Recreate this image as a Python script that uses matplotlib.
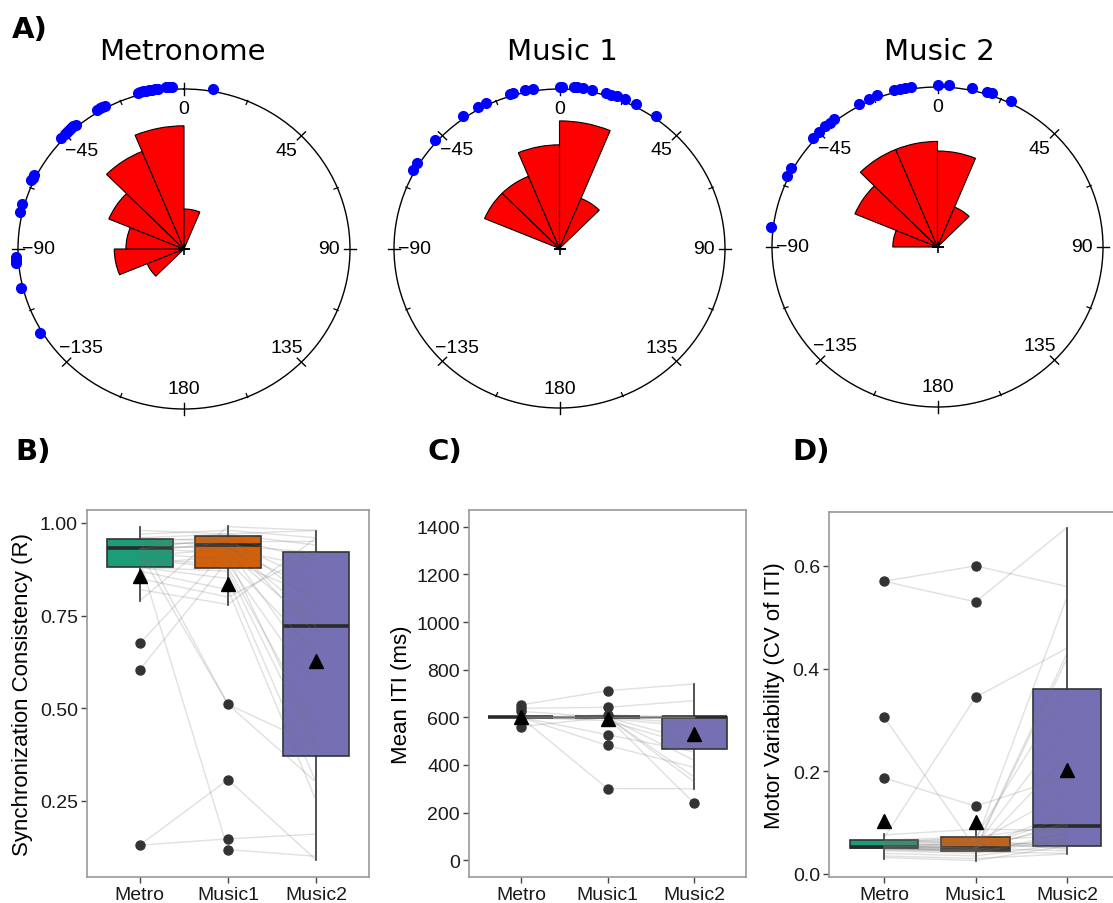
import numpy as np
import matplotlib
matplotlib.use('Agg')
import matplotlib.pyplot as plt

plt.rcParams['font.family'] = ['Liberation Sans', 'DejaVu Sans']

# ---------------- panel A: phase angles (deg) per participant + rose bar radii
titles = ['Metronome', 'Music 1', 'Music 2']
phase_metro = [10, -4, -5, -6, -9, -10, -11, -12, -13, -14, -15, -16, -28, -29, -30, -31,
               -40, -41, -42, -43, -44, -45, -47, -63, -64, -65, -74, -77, -93, -94, -95,
               -104, -121]
phase_music1 = [0, 1, 5, 6, 8, 11, 16, 18, 20, 23, 27, 35, -9, -12, -16, -17, -26, -29,
                -35, -48, -58, -61]
phase_music2 = [0, 4, 12, 17, 19, 26, -9, -11, -13, -15, -21, -24, -28, -38, -40, -42,
                -45, -48, -61, -64, -83]
rose_start_metro = [-135, -112.5, -90, -67.5, -45, -22.5, 0]
rose_height_metro = [0.24, 0.42, 0.35, 0.49, 0.66, 0.77, 0.25]
rose_start_music1 = [-67.5, -45, -22.5, 0, 22.5]
rose_height_music1 = [0.49, 0.49, 0.65, 0.80, 0.34]
rose_start_music2 = [-90, -67.5, -45, -22.5, 0, 22.5]
rose_height_music2 = [0.27, 0.54, 0.66, 0.66, 0.60, 0.27]
circle_ticks = [0, 45, 90, 135, 180, -135, -90, -45]
circle_labels = ['0', '45', '90', '135', '180', '\u2212135', '\u221290', '\u221245']

# ---------------- panels B-D
groups = ['Metro', 'Music1', 'Music2']
box_colors = ['#1B9E77', '#D95F02', '#7570B3']

# B: synchronization consistency (R), one value per participant
sync_metro = [0.98, 0.97, 0.96, 0.96, 0.95, 0.95, 0.94, 0.94, 0.93, 0.93, 0.93, 0.92, 0.92,
              0.91, 0.90, 0.90, 0.89, 0.88, 0.88, 0.87, 0.85, 0.82, 0.79, 0.675, 0.604,
              0.13, 0.13, 0.90, 0.95, 0.92]
sync_music1 = [0.97, 0.98, 0.95, 0.97, 0.96, 0.94, 0.95, 0.93, 0.96, 0.94, 0.92, 0.95, 0.90,
               0.93, 0.89, 0.88, 0.91, 0.87, 0.85, 0.82, 0.80, 0.78, 0.99, 0.93, 0.90,
               0.307, 0.147, 0.118, 0.51, 0.51]
sync_music2 = [0.98, 0.96, 0.95, 0.94, 0.90, 0.92, 0.84, 0.82, 0.78, 0.74, 0.72, 0.70, 0.65,
               0.60, 0.55, 0.45, 0.41, 0.39, 0.30, 0.25, 0.92, 0.96, 0.98, 0.88, 0.80,
               0.09, 0.16, 0.10, 0.40, 0.30]
sync_q1 = [0.880, 0.878, 0.372]
sync_med = [0.932, 0.941, 0.723]
sync_q3 = [0.957, 0.966, 0.921]
sync_lo = [0.790, 0.779, 0.089]
sync_hi = [0.988, 0.991, 0.979]
sync_mean = [0.856, 0.835, 0.626]
sync_fliers = [[0.675, 0.604, 0.130], [0.510, 0.307, 0.147, 0.118], []]

# C: mean inter-tap interval (ms)
iti_metro = [652, 638, 625, 561] + [600] * 26
iti_music1 = [712, 642, 600, 600, 610, 596, 586, 527, 482, 301, 600, 600, 600, 600, 600,
              600, 600, 600, 600, 600, 600, 600, 600, 600, 600, 600, 600, 600, 600, 600]
iti_music2 = [740, 670, 600, 575, 600, 560, 480, 455, 390, 300, 240, 330, 350, 420, 500,
              600, 600, 600, 600, 600, 600, 600, 600, 600, 600, 600, 600, 600, 600, 600]
iti_q1 = [600, 600, 468]
iti_med = [600, 600, 600]
iti_q3 = [600, 600, 600]
iti_lo = [600, 600, 299]
iti_hi = [600, 600, 740]
iti_mean = [600, 592, 531]
iti_fliers = [[652, 638, 625, 561], [712, 642, 610, 527, 482, 301], [240]]

# D: motor variability (CV of ITI)
cv_metro = [0.570, 0.570, 0.306, 0.187, 0.070, 0.065, 0.055, 0.050, 0.062, 0.058, 0.050,
            0.054, 0.052, 0.048, 0.066, 0.053, 0.076, 0.045, 0.060, 0.051, 0.049, 0.056,
            0.040, 0.032, 0.063, 0.054, 0.047, 0.035, 0.052, 0.058]
cv_music1 = [0.600, 0.530, 0.050, 0.132, 0.344, 0.060, 0.050, 0.048, 0.070, 0.055, 0.045,
             0.060, 0.050, 0.046, 0.072, 0.052, 0.087, 0.040, 0.065, 0.047, 0.044, 0.058,
             0.035, 0.026, 0.068, 0.050, 0.043, 0.030, 0.056, 0.062]
cv_music2 = [0.560, 0.675, 0.120, 0.190, 0.440, 0.540, 0.430, 0.420, 0.360, 0.290, 0.230,
             0.160, 0.110, 0.100, 0.095, 0.093, 0.085, 0.080, 0.075, 0.070, 0.065, 0.060,
             0.058, 0.055, 0.050, 0.045, 0.040, 0.039, 0.052, 0.048]
cv_q1 = [0.050, 0.045, 0.054]
cv_med = [0.052, 0.051, 0.094]
cv_q3 = [0.066, 0.071, 0.360]
cv_lo = [0.030, 0.026, 0.039]
cv_hi = [0.077, 0.087, 0.674]
cv_mean = [0.103, 0.101, 0.203]
cv_fliers = [[0.570, 0.306, 0.187], [0.600, 0.530, 0.344, 0.132], []]

W, H = 1113, 904
fig = plt.figure(figsize=(W / 100, H / 100), dpi=100)


def px_axes(left, top, right, bottom, **kw):
    return fig.add_axes([left / W, 1 - bottom / H, (right - left) / W, (bottom - top) / H], **kw)


def circle_panel(ax, phases, starts, heights):
    ax.set_theta_zero_location('N')
    ax.set_theta_direction(-1)
    ax.set_ylim(0, 1)
    ax.set_aspect('auto')
    ax.grid(False)
    ax.set_xticks([])
    ax.set_yticks([])
    ax.spines['polar'].set_linewidth(1.0)
    centers = np.deg2rad(np.array(starts) + 11.25)
    ax.bar(centers, heights, width=np.deg2rad(22.5), bottom=0, color='red',
           edgecolor='black', linewidth=0.8, zorder=2)
    for a in np.arange(0, 360, 45):
        ax.plot([np.deg2rad(a)] * 2, [0.965, 1.035], color='black', lw=1.0, clip_on=False)
    for a in np.arange(22.5, 360, 45):
        ax.plot([np.deg2rad(a)] * 2, [0.978, 1.005], color='black', lw=0.9, clip_on=False)
    for a, lab in zip(circle_ticks, circle_labels):
        ax.text(np.deg2rad(a), 0.875, lab, ha='center', va='center', fontsize=14)
    ax.plot(0, 0, '+', color='black', ms=9, mew=1.2, zorder=3)
    ax.plot(np.deg2rad(phases), np.full(len(phases), 1.015), 'o', color='blue', ms=7,
            mec='blue', clip_on=False, zorder=5)


circle_boxes = [(18, 90, 350, 410), (394, 90, 725, 409), (772, 88, 1103, 408)]
circle_data = [(phase_metro, rose_start_metro, rose_height_metro),
               (phase_music1, rose_start_music1, rose_height_music1),
               (phase_music2, rose_start_music2, rose_height_music2)]
title_x = [182, 562, 939]
for box, dat, t, tx in zip(circle_boxes, circle_data, titles, title_x):
    ax = px_axes(*box, projection='polar')
    circle_panel(ax, *dat)
    fig.text(tx / W, 1 - 52 / H, t, ha='center', va='center', fontsize=21,
             family='DejaVu Sans')


def box_panel(ax, subj, q1, med, q3, lo, hi, mean, fliers, ylim, yticks, yticklabels, ylabel):
    stats = [dict(med=m, q1=a, q3=b, whislo=l, whishi=h, fliers=[], label=g)
             for a, m, b, l, h, g in zip(q1, med, q3, lo, hi, groups)]
    bp = ax.bxp(stats, positions=[1, 2, 3], widths=0.75, patch_artist=True,
                showcaps=False, showfliers=False,
                boxprops=dict(edgecolor='#333333', linewidth=1.2),
                medianprops=dict(color='#2a2a2a', linewidth=2.6),
                whiskerprops=dict(color='#333333', linewidth=1.2))
    for patch, c in zip(bp['boxes'], box_colors):
        patch.set_facecolor(c)
        patch.set_zorder(2)
    for i in range(len(subj[0])):
        ax.plot([1, 2, 3], [subj[0][i], subj[1][i], subj[2][i]], color='0.45', alpha=0.22,
                lw=1.0, zorder=3)
    for pos, fl in zip([1, 2, 3], fliers):
        if fl:
            ax.plot([pos] * len(fl), fl, 'o', color='#333333', ms=6.5, zorder=4)
    ax.plot([1, 2, 3], mean, '^', color='black', ms=10, ls='none', zorder=5)
    ax.set_xlim(0.4, 3.6)
    ax.set_ylim(*ylim)
    ax.set_yticks(yticks)
    ax.set_yticklabels(yticklabels)
    ax.set_xticks([1, 2, 3])
    ax.set_xticklabels(groups)
    ax.set_ylabel(ylabel, fontsize=16)
    for s in ax.spines.values():
        s.set_color('#9a9a9a')
        s.set_linewidth(1.2)
    ax.tick_params(direction='out', length=4, width=1.0, color='#444444', labelsize=14,
                   labelcolor='#1a1a1a', pad=2.5)


axB = px_axes(87, 511, 369, 878)
box_panel(axB, [sync_metro, sync_music1, sync_music2], sync_q1, sync_med, sync_q3,
          sync_lo, sync_hi, sync_mean, sync_fliers, (0.044, 1.035),
          [0.25, 0.50, 0.75, 1.00], ['0.25', '0.50', '0.75', '1.00'],
          'Synchronization Consistency (R)')
axB.yaxis.set_label_coords(-0.19, 0.5)

axC = px_axes(469, 511, 746, 878)
box_panel(axC, [iti_metro, iti_music1, iti_music2], iti_q1, iti_med, iti_q3,
          iti_lo, iti_hi, iti_mean, iti_fliers, (-70, 1470),
          list(range(0, 1401, 200)), [str(v) for v in range(0, 1401, 200)],
          'Mean ITI (ms)')
axC.yaxis.set_label_coords(-0.206, 0.5)

axD = px_axes(829, 513, 1122, 878)
box_panel(axD, [cv_metro, cv_music1, cv_music2], cv_q1, cv_med, cv_q3,
          cv_lo, cv_hi, cv_mean, cv_fliers, (-0.006, 0.705),
          [0.0, 0.2, 0.4, 0.6], ['0.0', '0.2', '0.4', '0.6'],
          'Motor Variability (CV of ITI)')
axD.yaxis.set_label_coords(-0.15, 0.5)

for lab, x, y, fs in [('A)', 12, 30, 21), ('B)', 15, 452, 21), ('C)', 427, 452, 21),
                      ('D)', 792, 452, 21)]:
    fig.text(x / W, 1 - y / H, lab, ha='left', va='center', fontsize=fs,
             fontweight='bold', family='DejaVu Sans')

fig.savefig('out.png', dpi=100)
